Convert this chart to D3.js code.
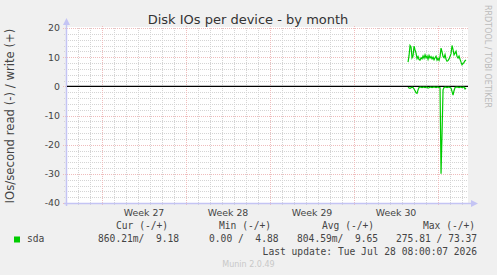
<!DOCTYPE html>
<html>
<head>
<meta charset="utf-8">
<script src="https://cdn.jsdelivr.net/npm/d3@7"></script>
<style>
  html, body { margin: 0; padding: 0; background: #f0f0f0; }
  svg { display: block; }
  text { white-space: pre; }
</style>
</head>
<body>
<svg id="chart" width="497" height="275"></svg>
<script>
// ---------------- data ----------------
const title = "Disk IOs per device - by month";
const yLabel = "IOs/second read (-) / write (+)";
const yTicks = [20, 10, 0, -10, -20, -30, -40];
const weekLabels = ["Week 27", "Week 28", "Week 29", "Week 30"];
const weekStartDays = [2.92, 9.92, 16.92, 23.92, 30.92]; // days from left edge
const totalDays = 401 / 12;
const dataStartDay = 28.42;
const stepDays = 1 / 12; // 2-hour samples
const writeVals = [8.3, 10.5, 14.0, 13.5, 9.8, 10.5, 13.8, 12.5, 11.4, 9.5,
  10.2, 9.2, 9.0, 9.8, 9.4, 10.4, 9.6, 10.8, 9.8, 10.4,
  9.3, 10.6, 9.7, 10.2, 9.4, 10.0, 9.1, 9.8, 10.3, 9.0,
  9.6, 8.9, 10.2, 13.1, 11.8, 10.2, 9.8, 10.9, 9.3, 8.6,
  8.8, 9.4, 10.2, 11.2, 14.0, 12.6, 10.8, 11.4, 12.0, 10.2,
  9.7, 10.4, 9.3, 8.3, 7.4, 7.8, 8.2, 8.8, 9.0];
const readVals = [0.3, 0.6, 0.7, 0.5, 0.3, 0.4, 0.9, 1.5, 2.2, 2.4,
  1.2, 0.4, 0.3, 0.3, 0.4, 0.3, 0.3, 0.4, 0.3, 0.3,
  0.6, 0.5, 0.3, 0.3, 0.4, 0.3, 0.3, 0.3, 0.4, 0.3,
  0.3, 0.4, 0.5, 30.0, 16.0, 1.2, 0.4, 0.3, 0.3, 0.4,
  0.3, 0.3, 0.4, 0.6, 1.8, 3.0, 1.5, 0.4, 0.3, 0.3,
  0.3, 0.4, 0.3, 0.3, 0.4, 0.3, 0.3, 0.9, 0.5];
const legendHeaders = ["Cur (-/+)", "Min (-/+)", "Avg (-/+)", "Max (-/+)"];
const legendValues = ["860.21m/  9.18", "0.00 /  4.88", "804.59m/  9.65", "275.81 / 73.37"];
const seriesName = "sda";
const lastUpdate = "Last update: Tue Jul 28 08:00:07 2026";
const footer = "Munin 2.0.49";
const sideText = "RRDTOOL / TOBI OETIKER";

// ---------------- layout ----------------
const svg = d3.select("#chart");
const L = 67, R = 468, T = 28, B = 203;
const x = d3.scaleLinear().domain([0, totalDays]).range([L, R]);
const y = d3.scaleLinear().domain([-40, 20]).range([B, T]);
const cx = v => Math.round(x(v)) + 0.5;
const cy = v => Math.round(y(v)) + 0.5;

svg.append("rect").attr("width", 497).attr("height", 275).attr("fill", "#f0f0f0");
svg.append("rect").attr("x", L).attr("y", T - 1).attr("width", R - L).attr("height", B - T + 1).attr("fill", "#ffffff");

const font = "'DejaVu Sans', sans-serif";
const mono = "'DejaVu Sans Mono', monospace";
const minorColor = "#d4d4d4";
const majorColor = "#efbcbc";

// minor horizontal grid
const g = svg.append("g");
d3.range(-40, 21, 2).filter(v => v % 10 !== 0).forEach(v => {
  g.append("line").attr("x1", L - 3).attr("x2", R).attr("y1", cy(v)).attr("y2", cy(v))
    .attr("stroke", minorColor).attr("stroke-dasharray", "1,1").attr("stroke-width", 1);
});
// minor vertical grid (days)
d3.range(weekStartDays[0] - 2, totalDays, 1).forEach(d => {
  if (d < 0.5) return;
  const isMajor = weekStartDays.some(w => Math.abs(w - d) < 0.01);
  if (isMajor) return;
  g.append("line").attr("x1", cx(d)).attr("x2", cx(d)).attr("y1", T).attr("y2", B + 2)
    .attr("stroke", minorColor).attr("stroke-dasharray", "1,1").attr("stroke-width", 1);
});
// major grid
yTicks.forEach(v => {
  g.append("line").attr("x1", L - 4).attr("x2", R).attr("y1", cy(v)).attr("y2", cy(v))
    .attr("stroke", majorColor).attr("stroke-dasharray", "1,1").attr("stroke-width", 1);
});
weekStartDays.forEach(d => {
  g.append("line").attr("x1", cx(d)).attr("x2", cx(d)).attr("y1", T - 2).attr("y2", B + 3)
    .attr("stroke", majorColor).attr("stroke-dasharray", "1,1").attr("stroke-width", 1);
});

// axes (light blue with arrows)
const axisColor = "#c4c4f4";
svg.append("line").attr("x1", L - 0.5).attr("x2", L - 0.5).attr("y1", B + 3).attr("y2", T - 4)
  .attr("stroke", axisColor).attr("stroke-width", 1.5);
svg.append("path").attr("d", `M${L - 4},${T - 3} L${L - 0.5},${T - 10} L${L + 3},${T - 3} Z`).attr("fill", axisColor);
svg.append("line").attr("x1", L - 3).attr("x2", R + 4).attr("y1", B + 0.5).attr("y2", B + 0.5)
  .attr("stroke", axisColor).attr("stroke-width", 1.5);
svg.append("path").attr("d", `M${R + 3},${B - 3} L${R + 10},${B + 0.5} L${R + 3},${B + 4} Z`).attr("fill", axisColor);

// y tick labels
svg.append("g").selectAll("text").data(yTicks).join("text")
  .attr("x", 60).attr("y", d => y(d) + 3.4).attr("text-anchor", "end")
  .attr("font-family", font).attr("font-size", 9.4).attr("fill", "#444")
  .text(d => d);

// week labels (centered in each week)
svg.append("g").selectAll("text").data(weekLabels).join("text")
  .attr("x", (d, i) => x(weekStartDays[i] + 3.5)).attr("y", 216).attr("text-anchor", "middle")
  .attr("font-family", font).attr("font-size", 9.4).attr("fill", "#444")
  .text(d => d);

// zero line
svg.append("line").attr("x1", L).attr("x2", R).attr("y1", y(0)).attr("y2", y(0))
  .attr("stroke", "#000").attr("stroke-width", 1.2);

// series
const days = writeVals.map((v, i) => dataStartDay + i * stepDays);
const line = d3.line().x(d => x(d[0])).y(d => y(d[1]));
svg.append("path").datum(days.map((d, i) => [d, -readVals[i]]))
  .attr("d", line).attr("fill", "none").attr("stroke", "#00cc00").attr("stroke-width", 1.2);
svg.append("path").datum(days.map((d, i) => [d, writeVals[i]]))
  .attr("d", line).attr("fill", "none").attr("stroke", "#00cc00").attr("stroke-width", 1.2);

// title
svg.append("text").attr("x", 248).attr("y", 24).attr("text-anchor", "middle")
  .attr("font-family", font).attr("font-size", 13).attr("fill", "#333").text(title);

// y label
svg.append("text").attr("transform", "translate(13.5,116) rotate(-90)").attr("text-anchor", "middle")
  .attr("font-family", font).attr("font-size", 11.7).attr("fill", "#444").text(yLabel);

// side text
svg.append("text").attr("transform", "translate(485,5) rotate(90)").attr("text-anchor", "start")
  .attr("font-family", font).attr("font-size", 8).attr("fill", "#bbbbbb").text(sideText);

// legend
const headerX = [116, 219, 322, 423];
const valueX = [98, 209, 297, 396];
svg.append("g").selectAll("text").data(legendHeaders).join("text")
  .attr("x", (d, i) => headerX[i]).attr("y", 229)
  .attr("font-family", mono).attr("font-size", 9.63).attr("fill", "#444").text(d => d);
svg.append("g").selectAll("text").data(legendValues).join("text")
  .attr("x", (d, i) => valueX[i]).attr("y", 242)
  .attr("font-family", mono).attr("font-size", 9.63).attr("fill", "#444").text(d => d);
svg.append("rect").attr("x", 14).attr("y", 236.5).attr("width", 6).attr("height", 6).attr("fill", "#00cc00");
svg.append("text").attr("x", 27).attr("y", 242)
  .attr("font-family", mono).attr("font-size", 9.63).attr("fill", "#444").text(seriesName);
svg.append("text").attr("x", 477).attr("y", 255).attr("text-anchor", "end")
  .attr("font-family", mono).attr("font-size", 9.63).attr("fill", "#444").text(lastUpdate);
svg.append("text").attr("x", 248.5).attr("y", 267).attr("text-anchor", "middle")
  .attr("font-family", font).attr("font-size", 8).attr("fill", "#c8c8c8").text(footer);
</script>
</body>
</html>
